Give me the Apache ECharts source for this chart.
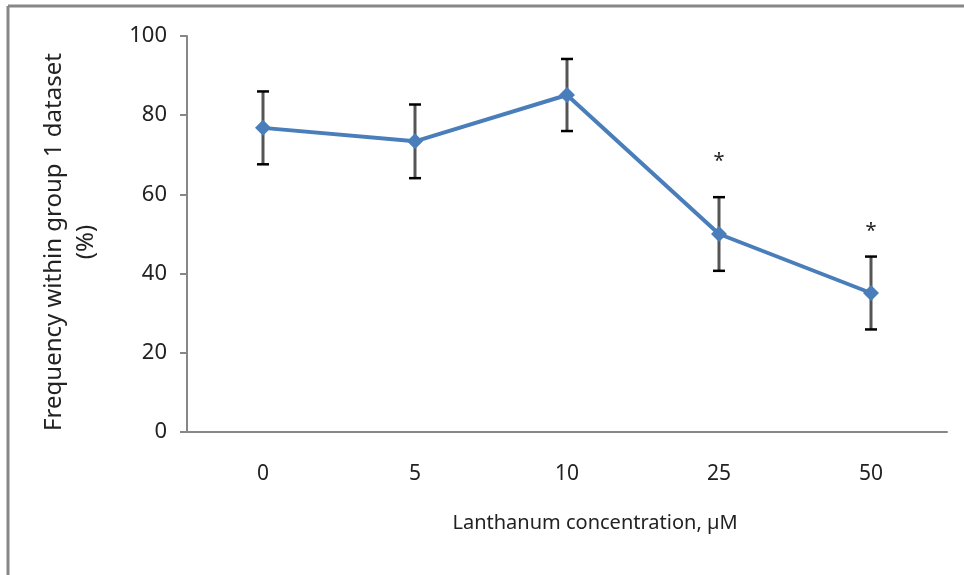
<!DOCTYPE html>
<html>
<head>
<meta charset="utf-8">
<script src="https://cdn.jsdelivr.net/npm/echarts@6/dist/echarts.min.js"></script>
<style>
  html, body { margin: 0; padding: 0; background: #fff; }
  #chart { width: 964px; height: 575px; }
</style>
</head>
<body>
<div id="chart"></div>
<script>
// values
const concentrations = ['0', '5', '10', '25', '50'];
const frequency = [76.8, 73.4, 85.1, 50.0, 35.1];
const errorSize = [9.2, 9.3, 9.1, 9.3, 9.2];
const sigMark = ['', '', '', '*', '*'];
const sigLevel = [null, null, null, 69.4, 51.8];
const yTicks = [0, 20, 40, 60, 80, 100];

const FONT = "'Noto Sans', sans-serif";
const AXIS_GRAY = '#878787';
const LINE_BLUE = '#4a7ebb';

const errorData = concentrations.map((c, i) => [
    i, frequency[i] - errorSize[i], frequency[i] + errorSize[i], sigLevel[i], sigMark[i]
]);

const chart = echarts.init(document.getElementById('chart'));

chart.setOption({
    animation: false,
    grid: { left: 187, right: 17, top: 36, bottom: 143 },
    graphic: [
        // outer frame: only top and left edges show
        { type: 'line', shape: { x1: 8, y1: 6, x2: 964, y2: 6 }, style: { stroke: AXIS_GRAY, lineWidth: 3 } },
        { type: 'line', shape: { x1: 8, y1: 6, x2: 8, y2: 575 }, style: { stroke: AXIS_GRAY, lineWidth: 3 } }
    ],
    xAxis: {
        type: 'category',
        data: concentrations,
        boundaryGap: true,
        axisLine: { lineStyle: { color: AXIS_GRAY, width: 2 } },
        axisTick: { show: false },
        axisLabel: { color: '#222', fontSize: 21, fontFamily: FONT, margin: 32 },
        name: 'Lanthanum concentration, µM',
        nameLocation: 'middle',
        nameGap: 81,
        nameTextStyle: { color: '#222', fontSize: 20, fontFamily: FONT, padding: [0, 0, 0, 56] }
    },
    yAxis: {
        type: 'value',
        min: yTicks[0],
        max: yTicks[yTicks.length - 1],
        interval: 20,
        splitLine: { show: false },
        axisLine: { show: true, lineStyle: { color: AXIS_GRAY, width: 2 } },
        axisTick: { show: true, length: 7, lineStyle: { color: AXIS_GRAY, width: 2 } },
        axisLabel: { color: '#222', fontSize: 22, fontFamily: FONT, margin: 20 },
        name: 'Frequency within group 1 dataset\n(%)',
        nameLocation: 'middle',
        nameGap: 85,
        nameTextStyle: { color: '#222', fontSize: 24, fontFamily: FONT, lineHeight: 32, padding: [0, 16, 0, 0] }
    },
    series: [
        {
            // error bars + significance stars
            type: 'custom',
            data: errorData,
            z: 1,
            renderItem: (params, api) => {
                const x = api.value(0);
                const lo = api.coord([x, api.value(1)]);
                const hi = api.coord([x, api.value(2)]);
                const cap = 6;
                const style = { stroke: '#000', lineWidth: 2.5 };
                const children = [
                    { type: 'line', shape: { x1: hi[0], y1: hi[1], x2: lo[0], y2: lo[1] }, style: { stroke: '#555', lineWidth: 3 } },
                    { type: 'line', shape: { x1: hi[0] - cap, y1: hi[1], x2: hi[0] + cap, y2: hi[1] }, style },
                    { type: 'line', shape: { x1: lo[0] - cap, y1: lo[1], x2: lo[0] + cap, y2: lo[1] }, style }
                ];
                const mark = api.value(4);
                const level = api.value(3);
                if (mark && level != null && !isNaN(level)) {
                    const p = api.coord([x, level]);
                    children.push({
                        type: 'text',
                        style: {
                            text: String(mark), x: p[0], y: p[1] + 4,
                            align: 'center', verticalAlign: 'middle',
                            fontSize: 20, fontFamily: FONT, fill: '#222'
                        }
                    });
                }
                return { type: 'group', children };
            }
        },
        {
            type: 'line',
            data: frequency,
            z: 3,
            symbol: 'diamond',
            symbolSize: 16,
            lineStyle: { color: LINE_BLUE, width: 4 },
            itemStyle: { color: LINE_BLUE }
        }
    ]
});
</script>
</body>
</html>
